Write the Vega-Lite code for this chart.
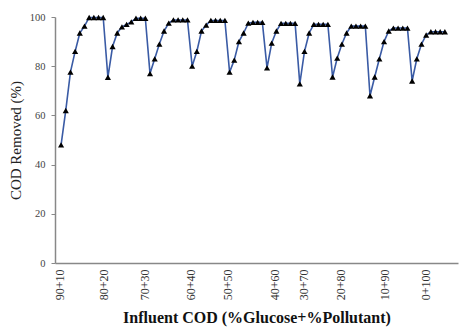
{
  "$schema": "https://vega.github.io/schema/vega-lite/v6.json",
  "width": 403,
  "height": 246,
  "autosize": {"type": "none"},
  "padding": {"left": 55, "top": 17, "right": 2, "bottom": 64},
  "background": "white",
  "config": {
    "view": {"stroke": null},
    "font": "Liberation Serif"
  },
  "data": {
    "values": [
      {"i": 0, "cod": 48}, {"i": 1, "cod": 62}, {"i": 2, "cod": 77.6}, {"i": 3, "cod": 86}, {"i": 4, "cod": 93.5},
      {"i": 5, "cod": 96.3}, {"i": 6, "cod": 99.8}, {"i": 7, "cod": 99.8}, {"i": 8, "cod": 99.8}, {"i": 9, "cod": 99.8},
      {"i": 10, "cod": 75.5}, {"i": 11, "cod": 88}, {"i": 12, "cod": 93.5}, {"i": 13, "cod": 96}, {"i": 14, "cod": 97},
      {"i": 15, "cod": 98}, {"i": 16, "cod": 99.5}, {"i": 17, "cod": 99.5}, {"i": 18, "cod": 99.5},
      {"i": 19, "cod": 77}, {"i": 20, "cod": 83}, {"i": 21, "cod": 89}, {"i": 22, "cod": 94.3}, {"i": 23, "cod": 97.5},
      {"i": 24, "cod": 98.8}, {"i": 25, "cod": 98.8}, {"i": 26, "cod": 98.8}, {"i": 27, "cod": 98.8},
      {"i": 28, "cod": 80}, {"i": 29, "cod": 86}, {"i": 30, "cod": 94.3}, {"i": 31, "cod": 96.7}, {"i": 32, "cod": 98.6},
      {"i": 33, "cod": 98.6}, {"i": 34, "cod": 98.6}, {"i": 35, "cod": 98.6},
      {"i": 36, "cod": 77.6}, {"i": 37, "cod": 82.5}, {"i": 38, "cod": 90}, {"i": 39, "cod": 93.5}, {"i": 40, "cod": 97.5},
      {"i": 41, "cod": 97.8}, {"i": 42, "cod": 97.8}, {"i": 43, "cod": 97.8},
      {"i": 44, "cod": 79.3}, {"i": 45, "cod": 89.4}, {"i": 46, "cod": 94.3}, {"i": 47, "cod": 97.4}, {"i": 48, "cod": 97.4},
      {"i": 49, "cod": 97.4}, {"i": 50, "cod": 97.4},
      {"i": 51, "cod": 72.8}, {"i": 52, "cod": 86}, {"i": 53, "cod": 93.5}, {"i": 54, "cod": 97}, {"i": 55, "cod": 97},
      {"i": 56, "cod": 97}, {"i": 57, "cod": 97},
      {"i": 58, "cod": 75.6}, {"i": 59, "cod": 83.3}, {"i": 60, "cod": 89}, {"i": 61, "cod": 93.5}, {"i": 62, "cod": 96.3},
      {"i": 63, "cod": 96.3}, {"i": 64, "cod": 96.3}, {"i": 65, "cod": 96.3},
      {"i": 66, "cod": 68}, {"i": 67, "cod": 75.6}, {"i": 68, "cod": 83}, {"i": 69, "cod": 90}, {"i": 70, "cod": 94.3},
      {"i": 71, "cod": 95.5}, {"i": 72, "cod": 95.5}, {"i": 73, "cod": 95.5}, {"i": 74, "cod": 95.5},
      {"i": 75, "cod": 74}, {"i": 76, "cod": 83}, {"i": 77, "cod": 89}, {"i": 78, "cod": 92.7}, {"i": 79, "cod": 94},
      {"i": 80, "cod": 94}, {"i": 81, "cod": 94}, {"i": 82, "cod": 94}
    ]
  },
  "encoding": {
    "x": {
      "field": "i",
      "type": "quantitative",
      "scale": {"domain": [-1.3, 84.8], "nice": false, "zero": false},
      "axis": {
        "values": [-0.4, 9, 17.9, 27.6, 35.5, 45.7, 51.7, 59.8, 69.2, 77.8],
        "labelExpr": "['90+10','80+20','70+30','60+40','50+50','40+60','30+70','20+80','10+90','0+100'][indexof([-0.4, 9, 17.9, 27.6, 35.5, 45.7, 51.7, 59.8, 69.2, 77.8], datum.value)]",
        "labelAngle": -90,
        "labelFont": "Liberation Serif",
        "labelFontSize": 12,
        "labelColor": "#333",
        "labelPadding": 6,
        "labelFlush": false,
        "labelOverlap": false,
        "ticks": false,
        "grid": false,
        "domainColor": "#888",
        "domainWidth": 1.5,
        "title": "Influent  COD (%Glucose+%Pollutant)",
        "titleFont": "Liberation Serif",
        "titleFontSize": 16,
        "titleFontWeight": "bold",
        "titleColor": "#111",
        "titlePadding": 10
      }
    },
    "y": {
      "field": "cod",
      "type": "quantitative",
      "scale": {"domain": [0, 100], "nice": false},
      "axis": {
        "values": [0, 20, 40, 60, 80, 100],
        "labelFont": "Liberation Serif",
        "labelFontSize": 10.5,
        "labelColor": "#444",
        "labelPadding": 6,
        "tickSize": 4,
        "tickColor": "#888",
        "grid": false,
        "domainColor": "#888",
        "domainWidth": 1.5,
        "title": "COD Removed (%)",
        "titleFont": "Liberation Serif",
        "titleFontSize": 15,
        "titleFontWeight": "normal",
        "titleColor": "#222",
        "titlePadding": 6
      }
    }
  },
  "layer": [
    {"mark": {"type": "line", "color": "#3A5BA5", "strokeWidth": 1.6}},
    {"mark": {"type": "point", "shape": "triangle-up", "filled": true, "color": "black", "opacity": 1, "size": 38}}
  ]
}
